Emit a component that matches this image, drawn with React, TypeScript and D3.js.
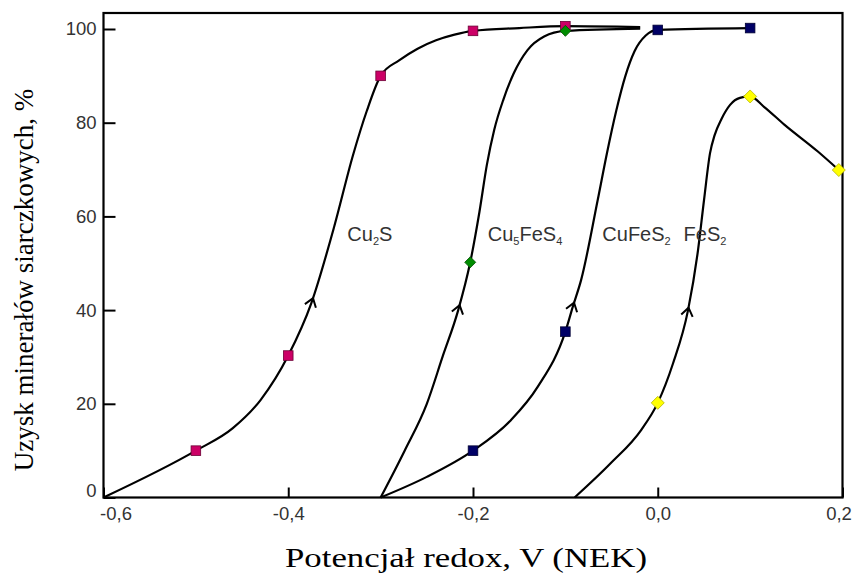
import React, { useEffect, useRef } from "react";
import * as d3 from "d3";

type Pt = [number, number];

const xTicks = [-0.6, -0.4, -0.2, 0.0, 0.2];
const xTickLabels = ["-0,6", "-0,4", "-0,2", "0,0", "0,2"];
const yTicks = [0, 20, 40, 60, 80, 100];

// Cu2S - traced curve and measured points
const cu2sCurve: Pt[] = [
  [-0.6, 0], [-0.5, 10], [-0.46, 14.8], [-0.43, 20.8], [-0.4, 30.3],
  [-0.375, 41.5], [-0.35, 58], [-0.33, 73], [-0.315, 82.5], [-0.3, 90],
  [-0.28, 93.3], [-0.26, 95.8], [-0.24, 97.6], [-0.22, 98.8], [-0.2, 99.6],
  [-0.15, 100.2], [-0.1, 100.6], [-0.019, 100.4],
];
const cu2sPoints: Pt[] = [[-0.5, 10], [-0.4, 30.3], [-0.3, 90], [-0.2, 99.6], [-0.1, 100.6]];

// Cu5FeS4
const cu5Curve: Pt[] = [
  [-0.3, 0], [-0.274, 10], [-0.25, 20], [-0.233, 30], [-0.216, 40],
  [-0.203, 50.2], [-0.193, 61], [-0.185, 71], [-0.177, 78.5], [-0.167, 85],
  [-0.156, 90.5], [-0.141, 95.5], [-0.123, 98.4], [-0.1, 99.6], [-0.019, 100.1],
];
const cu5Points: Pt[] = [[-0.203, 50.2], [-0.1, 99.6]];

// CuFeS2
const cufesCurve: Pt[] = [
  [-0.3, 0], [-0.25, 4.4], [-0.2, 10.0], [-0.159, 16.5], [-0.13, 23.6],
  [-0.1, 35.4], [-0.092, 40.7], [-0.083, 46.4], [-0.065, 63.5], [-0.055, 73.5],
  [-0.045, 82.5], [-0.035, 90], [-0.025, 95.3], [-0.013, 98.6], [0.0, 99.8],
  [0.1, 100.2],
];
const cufesPoints: Pt[] = [[-0.2, 10], [-0.1, 35.4], [0.0, 99.8], [0.1, 100.2]];

// FeS2
const fes2Curve: Pt[] = [
  [-0.09, 0], [-0.051, 7.3], [-0.018, 14.4], [0.0, 20.2], [0.0165, 28.6],
  [0.0328, 40.0], [0.0436, 52.8], [0.0501, 63.5], [0.0566, 73.5], [0.0615, 77.3],
  [0.069, 80.8], [0.0783, 83.8], [0.089, 85.3], [0.1, 85.6], [0.115, 83.4],
  [0.137, 79.6], [0.173, 73.9], [0.196, 69.9],
];
const fes2Points: Pt[] = [[0.0, 20.2], [0.1, 85.6], [0.196, 69.9]];

// label text parts (odd entries are subscripts)
const cu2sLabel = ["Cu", "2", "S"];
const cu5Label = ["Cu", "5", "FeS", "4"];
const cufesLabel = ["CuFeS", "2"];
const fes2Label = ["FeS", "2"];

const series = [
  { curve: cu2sCurve, points: cu2sPoints, label: cu2sLabel, labelAt: [-0.336, 54.7] as Pt, arrowAt: 42.5, shape: "square", fill: "#cc0066", stroke: "#6b0035" },
  { curve: cu5Curve, points: cu5Points, label: cu5Label, labelAt: [-0.184, 54.7] as Pt, arrowAt: 41, shape: "diamond", fill: "#008c00", stroke: "#004d00" },
  { curve: cufesCurve, points: cufesPoints, label: cufesLabel, labelAt: [-0.06, 54.7] as Pt, arrowAt: 41.5, shape: "square", fill: "#000066", stroke: "#000033" },
  { curve: fes2Curve, points: fes2Points, label: fes2Label, labelAt: [0.028, 54.7] as Pt, arrowAt: 40.5, shape: "diamond", fill: "#ffff00", stroke: "#b5b500" },
];

const W = 852;
const H = 574;

export default function App() {
  const ref = useRef<SVGSVGElement | null>(null);

  useEffect(() => {
    if (!ref.current) return;
    const svg = d3.select(ref.current);
    svg.selectAll("*").remove();

    const x = d3.scaleLinear().domain([-0.6, 0.2]).range([103.5, 842.5]);
    const y = d3.scaleLinear().domain([0, 100]).range([497.5, 29]);
    const top = 13;

    // x axis, ticks point inward
    const xAxis = svg
      .append("g")
      .attr("transform", `translate(0,${y(0)})`)
      .call(
        d3
          .axisBottom(x)
          .tickValues(xTicks)
          .tickFormat((_d, i) => xTickLabels[i])
          .tickSizeInner(-10)
          .tickSizeOuter(0)
          .tickPadding(9)
      );
    xAxis.select(".domain").remove();
    xAxis.selectAll("line").attr("stroke", "#000").attr("stroke-width", 2);
    xAxis
      .selectAll("text")
      .attr("font-family", "'Liberation Sans', Arial, sans-serif")
      .attr("font-size", 18.5)
      .attr("fill", "#333")
      .attr("dx", (_d, i) => (i === 0 ? 12 : i === xTicks.length - 1 ? -4 : 0));

    const yAxis = svg
      .append("g")
      .attr("transform", `translate(${x(-0.6)},0)`)
      .call(
        d3
          .axisLeft(y)
          .tickValues(yTicks)
          .tickSizeInner(-12)
          .tickSizeOuter(0)
          .tickPadding(7)
      );
    yAxis.select(".domain").remove();
    yAxis.selectAll("line").attr("stroke", "#000").attr("stroke-width", 2);
    yAxis
      .selectAll("text")
      .attr("font-family", "'Liberation Sans', Arial, sans-serif")
      .attr("font-size", 18.5)
      .attr("fill", "#333")
      .attr("dy", (_d, i) => (i === 0 ? "-0.05em" : "0.32em"));

    // frame
    svg
      .append("rect")
      .attr("x", x(-0.6))
      .attr("y", top)
      .attr("width", x(0.2) - x(-0.6))
      .attr("height", y(0) - top)
      .attr("fill", "none")
      .attr("stroke", "#000")
      .attr("stroke-width", 2.2);

    const line = d3
      .line<Pt>()
      .x((d) => x(d[0]))
      .y((d) => y(d[1]))
      .curve(d3.curveMonotoneX);

    series.forEach((s) => {
      const path = svg
        .append("path")
        .attr("d", line(s.curve) || "")
        .attr("fill", "none")
        .attr("stroke", "#000")
        .attr("stroke-width", 2.2);

      // open arrow head on the rising part of the curve
      const node = path.node() as SVGPathElement;
      const total = node.getTotalLength();
      const ty = y(s.arrowAt);
      let L = 0;
      for (let l = 0; l <= total; l += 0.5) {
        if (node.getPointAtLength(l).y <= ty) {
          L = l;
          break;
        }
      }
      const p = node.getPointAtLength(L);
      const a = node.getPointAtLength(Math.max(0, L - 3));
      const b = node.getPointAtLength(Math.min(total, L + 3));
      const ang = Math.atan2(b.y - a.y, b.x - a.x);
      const len = 10;
      const spread = 0.62;
      const p1 = [p.x - len * Math.cos(ang - spread), p.y - len * Math.sin(ang - spread)];
      const p2 = [p.x - len * Math.cos(ang + spread), p.y - len * Math.sin(ang + spread)];
      svg
        .append("path")
        .attr("d", `M${p1[0]},${p1[1]}L${p.x},${p.y}L${p2[0]},${p2[1]}`)
        .attr("fill", "none")
        .attr("stroke", "#000")
        .attr("stroke-width", 2);

      // label with subscripts
      const t = svg
        .append("text")
        .attr("x", x(s.labelAt[0]))
        .attr("y", y(s.labelAt[1]))
        .attr("font-family", "'Liberation Sans', Arial, sans-serif")
        .attr("font-size", 20)
        .attr("fill", "#333");
      s.label.forEach((part, i) => {
        const sub = i % 2 === 1;
        t.append("tspan")
          .attr("font-size", sub ? 11 : 20)
          .attr("dy", sub ? 4 : i === 0 ? 0 : -4)
          .text(part);
      });
    });

    // markers on top
    series.forEach((s) => {
      s.points.forEach((d) => {
        const cx = x(d[0]);
        const cy = y(d[1]);
        if (s.shape === "square") {
          svg
            .append("rect")
            .attr("x", cx - 4.8)
            .attr("y", cy - 4.8)
            .attr("width", 9.6)
            .attr("height", 9.6)
            .attr("fill", s.fill)
            .attr("stroke", s.stroke)
            .attr("stroke-width", 0.8);
        } else {
          const r = s.fill === "#ffff00" ? 6.5 : 5.5;
          svg
            .append("path")
            .attr("d", `M${cx},${cy - r}L${cx + r},${cy}L${cx},${cy + r}L${cx - r},${cy}Z`)
            .attr("fill", s.fill)
            .attr("stroke", s.stroke)
            .attr("stroke-width", 0.8);
        }
      });
    });

    // axis titles
    svg
      .append("text")
      .attr("x", 466)
      .attr("y", 567)
      .attr("text-anchor", "middle")
      .attr("font-family", "'Liberation Serif', 'Times New Roman', serif")
      .attr("font-size", 27)
      .attr("fill", "#000")
      .attr("textLength", 362)
      .attr("lengthAdjust", "spacingAndGlyphs")
      .text("Potencjał redox, V (NEK)");

    svg
      .append("text")
      .attr("transform", `translate(33,280) rotate(-90)`)
      .attr("text-anchor", "middle")
      .attr("font-family", "'Liberation Serif', 'Times New Roman', serif")
      .attr("font-size", 27)
      .attr("fill", "#000")
      .text("Uzysk minerałów siarczkowych, %");
  }, []);

  return (
    <svg
      ref={ref}
      width={W}
      height={H}
      style={{ position: "absolute", left: 0, top: 0, background: "#fff" }}
    />
  );
}
